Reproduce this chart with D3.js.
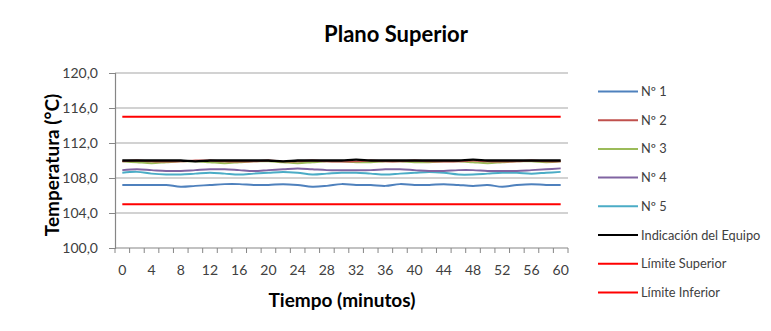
<!DOCTYPE html>
<html><head><meta charset="utf-8">
<script src="https://cdn.jsdelivr.net/npm/d3@7"></script>
<style>body{margin:0;background:#fff}svg{display:block}</style>
</head><body><svg id="c" width="771" height="331"></svg>
<script>
const minutes = [0,2,4,6,8,10,12,14,16,18,20,22,24,26,28,30,32,34,36,38,40,42,44,46,48,50,52,54,56,58,60];
const tickLabels = [0,4,8,12,16,20,24,28,32,36,40,44,48,52,56,60];
const yTicks = [100,104,108,112,116,120];
const n1 = [107.2,107.2,107.2,107.2,107.0,107.1,107.2,107.3,107.3,107.2,107.2,107.3,107.2,107.0,107.1,107.3,107.2,107.2,107.1,107.3,107.2,107.2,107.3,107.2,107.1,107.2,107.0,107.2,107.3,107.2,107.2];
const n2 = [109.9,110.0,109.9,109.9,109.9,110.0,110.0,109.9,109.9,109.9,110.0,109.9,109.9,110.0,109.9,109.9,109.9,110.0,109.9,109.9,110.0,109.9,109.9,109.9,110.0,109.9,109.9,109.9,110.0,109.9,109.9];
const n3 = [109.9,109.8,109.7,109.8,109.9,109.9,109.8,109.7,109.8,109.9,109.9,109.8,109.7,109.8,109.9,109.9,109.8,109.8,109.9,109.9,109.8,109.8,109.9,109.9,109.8,109.7,109.8,109.9,109.9,109.8,109.9];
const n4 = [108.9,109.0,108.9,108.8,108.8,108.9,109.0,109.0,108.9,108.8,108.9,109.0,109.1,109.0,108.9,108.9,108.9,108.9,109.0,109.0,108.9,108.8,108.8,108.9,108.9,108.8,108.8,108.8,108.9,109.0,109.1];
const n5 = [108.6,108.7,108.5,108.4,108.4,108.5,108.6,108.5,108.4,108.5,108.6,108.7,108.6,108.4,108.5,108.6,108.6,108.5,108.4,108.5,108.6,108.7,108.6,108.4,108.4,108.5,108.6,108.6,108.5,108.6,108.7];
const equipo = [110.0,110.0,110.0,110.0,110.0,109.9,110.0,110.0,110.0,110.0,110.0,109.9,110.0,110.0,110.0,110.0,110.1,110.0,110.0,110.0,110.0,110.0,110.0,110.0,110.1,110.0,110.0,110.0,110.0,110.0,110.0];
const limSup = minutes.map(() => 115);
const limInf = minutes.map(() => 105);
const seriesNames = ["Nº 1","Nº 2","Nº 3","Nº 4","Nº 5","Indicación del Equipo","Límite Superior","Límite Inferior"];
const seriesData = [n1,n2,n3,n4,n5,equipo,limSup,limInf];
const colors = ["#4F81BD","#C0504D","#9BBB59","#8064A2","#4BACC6","#000000","#FF0000","#FF0000"];

const svg = d3.select("#c");
const font = "Lato, 'Open Sans', sans-serif";
const L = 115, R = 568, T = 73, B = 248;

const x = d3.scaleBand().domain(minutes).range([L, R]);
const y = d3.scaleLinear().domain([100,120]).range([B, T]);

// gridlines
svg.append("g").selectAll("line").data(yTicks.slice(1)).join("line")
  .attr("x1", L).attr("x2", R).attr("y1", d => y(d)).attr("y2", d => y(d))
  .attr("stroke", "#a6a6a6").attr("stroke-width", 1.2);

// y axis
const yAxis = svg.append("g").attr("transform", `translate(${L},0)`)
  .call(d3.axisLeft(y).tickValues(yTicks).tickSize(6).tickPadding(11).tickFormat(d => d3.format(".1f")(d).replace(".", ",")));
yAxis.select(".domain").attr("stroke", "#868686").attr("stroke-width", 1.2);
yAxis.selectAll(".tick line").attr("stroke", "#868686");
yAxis.selectAll("text").attr("font-family", font).attr("font-size", 14).attr("fill", "#404040");

// x axis
const xg = svg.append("g").attr("transform", `translate(0,${B})`);
xg.append("line").attr("x1", L).attr("x2", R).attr("stroke", "#868686").attr("stroke-width", 1.2);
const bounds = minutes.map(m => x(m)).concat([R]);
xg.selectAll(".tk").data(bounds).join("line").attr("class","tk")
  .attr("x1", d => d).attr("x2", d => d).attr("y1", 0).attr("y2", 5).attr("stroke", "#868686");
xg.selectAll(".lb").data(tickLabels).join("text").attr("class","lb")
  .attr("x", d => x(d) + x.bandwidth()/2).attr("y", 27)
  .attr("text-anchor", "middle").attr("font-family", font).attr("font-size", 14).attr("fill", "#404040")
  .text(d => d);

// lines
const line = d3.line().x((d,i) => x(minutes[i]) + x.bandwidth()/2).y(d => y(d)).curve(d3.curveCatmullRom);
const order = [6,7,0,4,3,2,1,5];
order.forEach(i => {
  svg.append("path").datum(seriesData[i]).attr("d", line)
    .attr("fill", "none").attr("stroke", colors[i]).attr("stroke-width", i === 5 ? 2.4 : 2);
});

// title & axis labels
svg.append("text").attr("x", 396).attr("y", 42).attr("text-anchor", "middle")
  .attr("font-family", font).attr("font-weight", "bold").attr("font-size", 22).attr("fill", "#000")
  .text("Plano Superior");
svg.append("text").attr("x", 342).attr("y", 307).attr("text-anchor", "middle")
  .attr("font-family", font).attr("font-weight", "bold").attr("font-size", 19).attr("fill", "#000")
  .text("Tiempo (minutos)");
svg.append("text").attr("transform", "translate(59,165) rotate(-90)").attr("text-anchor", "middle")
  .attr("font-family", font).attr("font-weight", "bold").attr("font-size", 19).attr("fill", "#000")
  .text("Temperatura (°C)");

// legend
const lg = svg.append("g").selectAll("g").data(seriesNames).join("g")
  .attr("transform", (d,i) => `translate(598,${91.5 + i*28.7})`);
lg.append("line").attr("x1", 0).attr("x2", 40).attr("stroke", (d,i) => colors[i]).attr("stroke-width", 2);
lg.append("text").attr("x", 43).attr("y", 4.5).attr("font-family", font).attr("font-size", 12.8)
  .attr("fill", "#404040").text(d => d);
</script></body></html>
